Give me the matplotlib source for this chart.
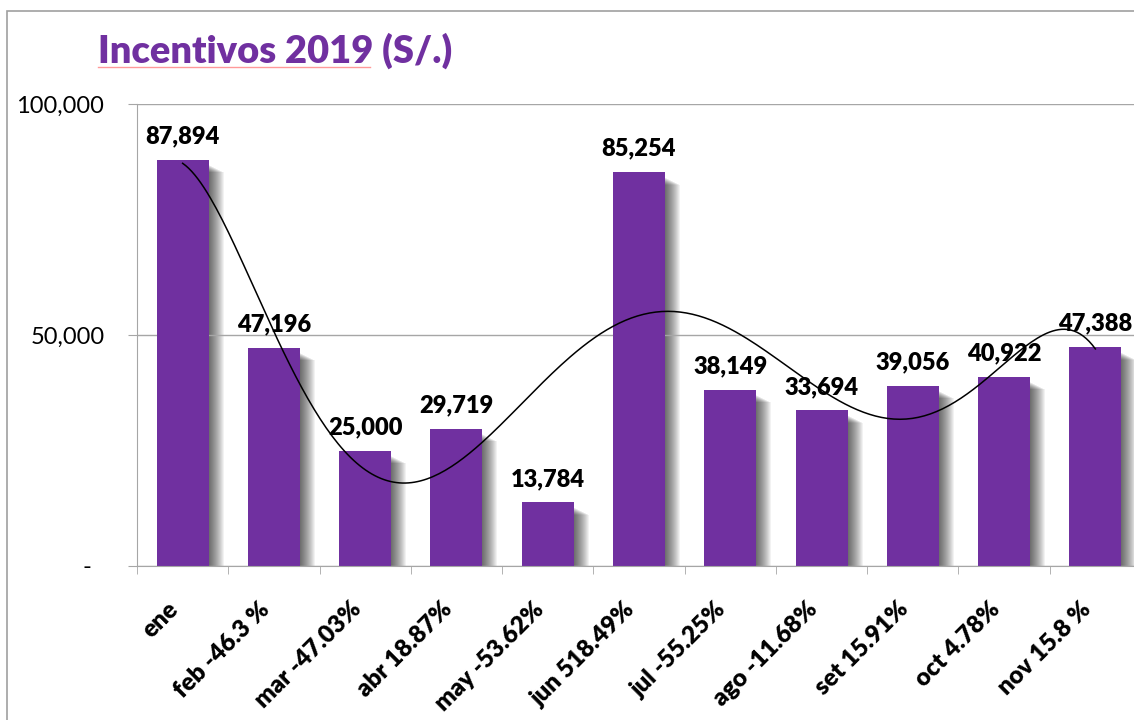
import numpy as np
import matplotlib
matplotlib.use("Agg")
import matplotlib.pyplot as plt
from matplotlib.patches import Rectangle
from matplotlib.ticker import FuncFormatter, FixedLocator

# ---- datos del grafico ----
meses = ["ene", "feb -46.3 %", "mar -47.03%", "abr 18.87%", "may -53.62%",
         "jun 518.49%", "jul -55.25%", "ago -11.68%", "set 15.91%",
         "oct 4.78%", "nov 15.8 %"]
incentivos = [87894, 47196, 25000, 29719, 13784, 85254, 38149, 33694,
              39056, 40922, 47388]
titulo = "Incentivos 2019 (S/.)"

morado = "#7030A0"
gris = "#A6A6A6"
plt.rcParams["font.family"] = ["Lato", "DejaVu Sans"]
negrita = "heavy"

W, H = 1134, 720
fig = plt.figure(figsize=(W / 100, H / 100), dpi=100)

# marco del area del grafico
fig.patches.append(Rectangle((7 / W, -0.1), 1.2, 1 - 11 / H + 0.1,
                             transform=fig.transFigure, fill=False,
                             edgecolor="#A0A0A0", linewidth=1.2))

ax = fig.add_axes([137 / W, 154 / H, 1004 / W, 462 / H])
x = np.arange(len(meses))
ancho = 0.57
ax.set_xlim(-0.5, len(meses) - 0.5)
ax.set_ylim(0, 100000)

# sombra de las barras (capas grises)
px_x = (len(meses)) / 1004.0
px_y = 100000 / 462.0
for i, v in enumerate(incentivos):
    for k in range(1, 16):
        ax.add_patch(Rectangle((i - ancho / 2 + k * px_x, -3 * px_y), ancho,
                               v - (5 + 0.5 * k) * px_y + 3 * px_y,
                               facecolor="black", alpha=0.05,
                               edgecolor="none", zorder=1.5))

ax.bar(x, incentivos, width=ancho, color=morado, zorder=2)

# linea de tendencia polinomica
coef = np.polyfit(x, incentivos, 6)
xs = np.linspace(0, len(meses) - 1, 300)
ax.plot(xs, np.polyval(coef, xs), color="black", linewidth=1.1, zorder=3)

# etiquetas de datos
for i, v in enumerate(incentivos):
    ax.annotate(f"{v:,}", (i, v), xytext=(0, 9), textcoords="offset points",
                ha="center", va="bottom", fontsize=17, fontweight=negrita,
                zorder=4)

# ejes
ax.yaxis.set_major_locator(FixedLocator([0, 50000, 100000]))
ax.yaxis.set_major_formatter(FuncFormatter(
    lambda v, p: "-  " if v == 0 else f"{int(v):,}"))
ax.grid(axis="y", color=gris, linewidth=1, zorder=0)
ax.tick_params(axis="y", length=6.5, color=gris, pad=17, labelsize=17)
ax.set_xticks(x)
ax.set_xticklabels(meses, rotation=45, ha="right", va="top",
                   fontsize=17.5, fontweight=negrita)
ax.set_xticks(np.arange(-0.5, len(meses)), minor=True)
ax.tick_params(axis="x", which="major", length=0, pad=23)
ax.tick_params(axis="x", which="minor", length=6, color=gris)
for s in ["top", "right"]:
    ax.spines[s].set_visible(False)
for s in ["left", "bottom"]:
    ax.spines[s].set_color(gris)

# titulo
fig.text(98 / W, 1 - 63 / H, titulo, ha="left", va="baseline",
         fontsize=27.4, fontweight=negrita, color=morado)
fig.add_artist(plt.Line2D([98 / W, 370 / W], [1 - 67 / H, 1 - 67 / H],
                          color="#FF9999", linewidth=1))

fig.savefig("out.png", dpi=100)
